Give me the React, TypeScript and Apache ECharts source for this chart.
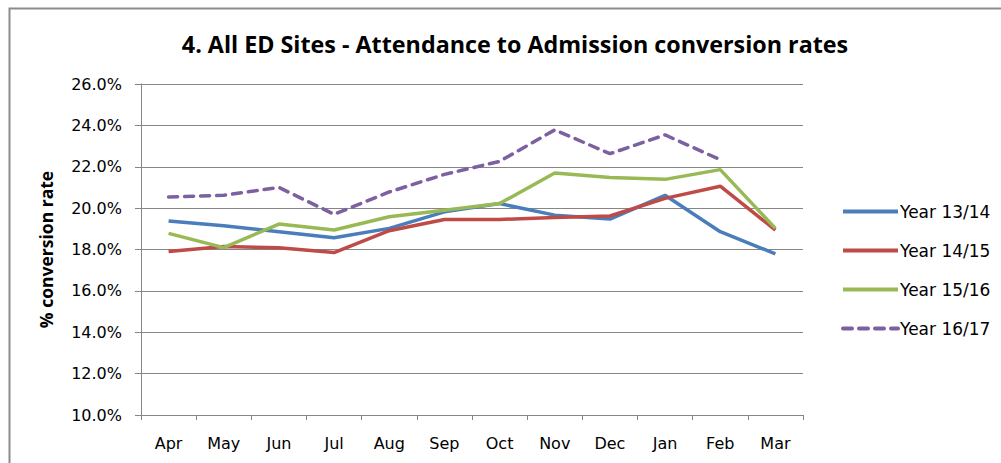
import React, { useEffect, useRef } from "react";
import * as echarts from "echarts";

const months = ["Apr", "May", "Jun", "Jul", "Aug", "Sep", "Oct", "Nov", "Dec", "Jan", "Feb", "Mar"];
const year1314 = [19.38, 19.15, 18.86, 18.57, 19.02, 19.82, 20.22, 19.66, 19.47, 20.62, 18.86, 17.79];
const year1415 = [17.9, 18.14, 18.09, 17.85, 18.91, 19.45, 19.45, 19.55, 19.62, 20.47, 21.06, 18.94];
const year1516 = [18.78, 18.09, 19.23, 18.94, 19.58, 19.9, 20.22, 21.7, 21.48, 21.39, 21.86, 19.02];
const year1617 = [20.54, 20.62, 21.0, 19.7, 20.78, 21.63, 22.26, 23.78, 22.63, 23.54, 22.34, null];
const seriesNames = ["Year 13/14", "Year 14/15", "Year 15/16", "Year 16/17"];
const colors = ["#4A7EBB", "#BE4B48", "#98B954", "#7D60A0"];

const FONT = "'DejaVu Sans', sans-serif";
const TITLE_FONT = "'Open Sans', sans-serif";

export default function App() {
  const ref = useRef<HTMLDivElement>(null);
  useEffect(() => {
    if (!ref.current) return;
    const chart = echarts.init(ref.current, undefined, { renderer: "svg" });
    const data = [year1314, year1415, year1516, year1617];
    const dashed = [9, 7];
    chart.setOption({
      animation: false,
      backgroundColor: "#ffffff",
      title: {
        text: "4. All ED Sites - Attendance to Admission conversion rates",
        left: 510,
        textAlign: "center",
        top: 27,
        textStyle: { fontFamily: TITLE_FONT, fontWeight: "bold", fontSize: 23.3, color: "#000" },
      },
      graphic: [
        {
          type: "rect",
          shape: { x: 9.5, y: 8.5, width: 1100, height: 600 },
          style: { fill: "none", stroke: "#8c8c8c", lineWidth: 2 },
          silent: true,
        },
      ],
      legend: {
        orient: "vertical",
        left: 836,
        top: 198,
        itemWidth: 55,
        itemHeight: 16,
        itemGap: 22,
        itemStyle: { opacity: 0 },
        textStyle: { fontFamily: FONT, fontSize: 17, lineHeight: 16, color: "#000", padding: [0, 0, 0, -3] },
        data: seriesNames.map((name, i) => ({
          name,
          lineStyle: { width: 4, color: colors[i], type: i === 3 ? dashed : "solid" },
        })),
      },
      grid: { left: 141, right: 198, top: 84, bottom: 48, containLabel: false },
      xAxis: {
        type: "category",
        data: months,
        boundaryGap: true,
        axisLine: { lineStyle: { color: "#868686", width: 1 } },
        axisTick: { show: true, length: 5, lineStyle: { color: "#868686" } },
        axisLabel: { fontFamily: FONT, fontSize: 16, color: "#000", margin: 20 },
      },
      yAxis: {
        type: "value",
        min: 10,
        max: 26,
        interval: 2,
        name: "% conversion rate",
        nameLocation: "middle",
        nameGap: 86,
        nameRotate: 90,
        nameTextStyle: { fontFamily: TITLE_FONT, fontWeight: "bold", fontSize: 17.5, color: "#000" },
        axisLine: { show: true, lineStyle: { color: "#868686", width: 1 } },
        axisTick: { show: true, length: 6, lineStyle: { color: "#868686" } },
        axisLabel: {
          fontFamily: FONT,
          fontSize: 16,
          color: "#000",
          margin: 19,
          formatter: (v: number) => v.toFixed(1) + "%",
        },
        splitLine: { lineStyle: { color: "#868686", width: 1 } },
      },
      series: seriesNames.map((name, i) => ({
        name,
        type: "line",
        data: data[i],
        symbol: "none",
        color: colors[i],
        lineStyle: {
          color: colors[i],
          width: 3.5,
          type: i === 3 ? dashed : "solid",
          cap: i === 3 ? "round" : "butt",
        },
      })),
    });
    return () => chart.dispose();
  }, []);
  return (
    <div
      ref={ref}
      style={{ position: "fixed", left: 0, top: 0, width: 1001, height: 463, background: "#fff" }}
    />
  );
}
